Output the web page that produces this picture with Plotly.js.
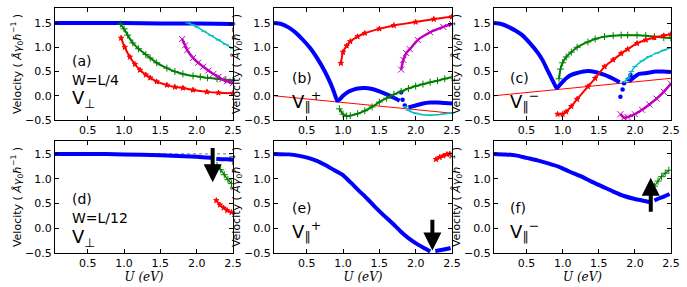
<!DOCTYPE html>
<html><head><meta charset="utf-8">
<script src="https://cdn.plot.ly/plotly-3.0.1.min.js"></script>
<style>body{margin:0;padding:0;background:#fff}#plot{width:687px;height:287px}</style>
</head><body><div id="plot"></div>
<script>
// ---------- data ----------
// Panel (a)  W=L/4, V_perp
const a_blue_x = [0.05,0.5,1.0,1.5,1.8,2.0,2.5];
const a_blue_y = [1.50,1.50,1.50,1.49,1.49,1.49,1.48];
const a_cyan_x = [1.88,1.95,2.0,2.1,2.2,2.3,2.4,2.5];
const a_cyan_y = [1.50,1.46,1.42,1.33,1.24,1.15,1.06,0.97];
const a_green_x = [0.95,1.0,1.05,1.12,1.2,1.3,1.36,1.45,1.59,1.7,1.81,1.95,2.05,2.15,2.28,2.4,2.5];
const a_green_y = [1.48,1.38,1.25,1.09,0.97,0.85,0.78,0.68,0.57,0.50,0.45,0.41,0.39,0.37,0.35,0.33,0.32];
const a_red_x = [0.96,1.01,1.08,1.15,1.22,1.3,1.36,1.45,1.59,1.7,1.81,1.95,2.14,2.3,2.5];
const a_red_y = [1.19,1.00,0.80,0.65,0.53,0.43,0.37,0.29,0.22,0.18,0.16,0.12,0.08,0.06,0.05];
const a_mag_x = [1.80,1.84,1.87,1.95,2.02,2.09,2.16,2.23,2.3,2.35,2.42,2.5];
const a_mag_y = [1.17,1.04,0.94,0.78,0.68,0.60,0.52,0.45,0.39,0.34,0.30,0.26];

// Panel (b)  V_par^+
const b_blue_x = [0.05,0.15,0.25,0.35,0.45,0.55,0.65,0.75,0.83,0.88,0.92,0.95,1.0,1.05,1.1,1.2,1.3,1.4,1.5,1.6,1.7,1.78,null,1.9,2.0,2.1,2.2,2.3,2.4,2.5];
const b_blue_y = [1.50,1.48,1.41,1.30,1.15,0.98,0.76,0.50,0.25,0.06,-0.10,-0.08,0.00,0.06,0.10,0.15,0.16,0.14,0.09,0.03,-0.04,-0.10,null,-0.24,-0.20,-0.16,-0.14,-0.14,-0.15,-0.16];
const b_dots_x = [1.80,1.82,1.85];
const b_dots_y = [0.07,-0.08,-0.20];
const b_red_x = [0.97,1.0,1.05,1.1,1.2,1.3,1.5,1.7,2.0,2.25,2.5];
const b_red_y = [0.67,0.90,1.03,1.12,1.22,1.29,1.38,1.45,1.52,1.58,1.63];
const b_mag_x = [1.80,1.83,1.87,1.92,2.03,2.2,2.38,2.5];
const b_mag_y = [0.54,0.74,0.88,0.96,1.15,1.31,1.42,1.48];
const b_green_x = [0.95,1.0,1.05,1.1,1.2,1.3,1.4,1.5,1.6,1.7,1.8,1.9,2.0,2.1,2.2,2.3,2.4,2.5];
const b_green_y = [-0.27,-0.38,-0.42,-0.41,-0.37,-0.31,-0.23,-0.13,-0.05,0.03,0.09,0.15,0.20,0.24,0.28,0.31,0.35,0.38];
const b_cyan_x = [1.86,1.9,2.0,2.1,2.2,2.3,2.4,2.5];
const b_cyan_y = [-0.22,-0.30,-0.36,-0.39,-0.40,-0.39,-0.37,-0.35];
const b_line_x = [0.05,2.5];
const b_line_y = [0.0,-0.36];

// Panel (c)  V_par^-
const c_blue_x = [0.05,0.15,0.25,0.35,0.44,0.55,0.66,0.72,0.79,0.85,0.9,0.92,0.97,1.05,1.12,1.2,1.35,1.45,1.58,1.7,1.79,null,1.92,1.97,2.06,2.17,2.29,2.4,2.5];
const c_blue_y = [1.50,1.48,1.42,1.34,1.25,1.08,0.88,0.74,0.53,0.35,0.20,0.16,0.24,0.36,0.43,0.47,0.51,0.49,0.43,0.35,0.28,null,0.30,0.36,0.45,0.47,0.50,0.50,0.49];
const c_dots_x = [1.80,1.83,1.85,1.91,1.94];
const c_dots_y = [-0.02,0.13,0.26,0.34,0.43];
const c_green_x = [0.95,0.97,1.0,1.05,1.12,1.2,1.35,1.45,1.58,1.7,1.81,1.9,2.03,2.15,2.27,2.4,2.5];
const c_green_y = [0.35,0.55,0.68,0.80,0.90,1.00,1.11,1.17,1.22,1.24,1.25,1.25,1.25,1.24,1.22,1.20,1.19];
const c_red_x = [0.93,1.0,1.05,1.12,1.2,1.35,1.45,1.58,1.7,1.81,1.9,2.03,2.15,2.27,2.4,2.5];
const c_red_y = [-0.38,-0.38,-0.33,-0.22,-0.07,0.19,0.36,0.60,0.74,0.87,0.96,1.08,1.15,1.20,1.24,1.27];
const c_cyan_x = [1.85,1.9,1.95,2.0,2.1,2.2,2.3,2.4,2.5];
const c_cyan_y = [0.28,0.35,0.50,0.60,0.72,0.81,0.88,0.94,0.99];
const c_mag_x = [1.80,1.85,1.9,2.0,2.1,2.2,2.3,2.4,2.5];
const c_mag_y = [-0.38,-0.45,-0.44,-0.38,-0.29,-0.18,-0.06,0.08,0.25];
const c_line_x = [0.05,2.5];
const c_line_y = [0.0,0.36];

// Panel (d)  W=L/12, V_perp
const d_blue_x = [0.05,0.5,1.0,1.5,2.0,2.2,null,2.27,2.35,2.42,2.5];
const d_blue_y = [1.50,1.50,1.49,1.47,1.44,1.42,null,1.40,1.39,1.39,1.38];
const d_ref_x = [0.05,2.5];
const d_ref_y = [1.5,1.5];
const d_green_x = [2.28,2.33,2.38,2.43,2.48];
const d_green_y = [1.27,1.18,1.08,0.98,0.90];
const d_red_x = [2.27,2.32,2.37,2.42,2.48];
const d_red_y = [0.56,0.47,0.41,0.36,0.32];

// Panel (e)  V_par^+
const e_blue_x = [0.05,0.25,0.4,0.52,0.64,0.75,0.87,0.99,1.1,1.21,1.33,1.44,1.56,1.68,1.79,1.9,2.01,2.13,2.2,null,2.27,2.35,2.42,2.48];
const e_blue_y = [1.50,1.49,1.46,1.42,1.36,1.28,1.18,1.08,0.93,0.77,0.60,0.43,0.26,0.10,-0.06,-0.20,-0.31,-0.41,-0.47,null,-0.46,-0.44,-0.42,-0.40];
const e_red_x = [2.28,2.33,2.38,2.43,2.47];
const e_red_y = [1.39,1.43,1.46,1.49,1.50];

// Panel (f)  V_par^-
const f_blue_x = [0.05,0.2,0.35,0.5,0.65,0.8,0.95,1.1,1.25,1.4,1.55,1.7,1.85,2.0,2.1,2.2,null,2.27,2.35,2.42,2.48];
const f_blue_y = [1.50,1.49,1.47,1.42,1.37,1.31,1.24,1.14,1.05,0.94,0.84,0.74,0.65,0.59,0.56,0.53,null,0.56,0.61,0.65,0.69];
const f_green_x = [2.27,2.32,2.37,2.42,2.47];
const f_green_y = [0.85,0.95,1.04,1.11,1.17];

// arrows: [x, tail y, head y]
const d_arrow = [2.22, 1.65, 0.93];
const e_arrow = [2.23, 0.20, -0.45];
const f_arrow = [2.22, 0.30, 1.02];

const yTicks = [-0.5,0.0,0.5,1.0,1.5];
const xTicks = [0.5,1.0,1.5,2.0,2.5];
const yTitle = 'Velocity ( <i>Å</i><i>γ</i><sub>0</sub><i>ħ</i><sup>−1</sup> )';
const xTitle = '<i>U (eV)</i>';

// ---------- styling ----------
const BLUE='#0000ff', RED='#ff0000', GREEN='#008000', MAG='#bf00bf', CYAN='#00bfbf';
const traces = [];
function blue(x,y,ax){traces.push({x,y,xaxis:'x'+ax,yaxis:'y'+ax,mode:'lines',line:{color:BLUE,width:4,shape:'spline',smoothing:0.6},connectgaps:false,hoverinfo:'skip'});}
function dots(x,y,ax){traces.push({x,y,xaxis:'x'+ax,yaxis:'y'+ax,mode:'markers',marker:{color:BLUE,size:4.5},hoverinfo:'skip'});}
function sym(x,y,ax,color,symbol,lw,ms){traces.push({x,y,xaxis:'x'+ax,yaxis:'y'+ax,mode:'lines+markers',line:{color,width:lw,shape:'spline',smoothing:0.6},marker:{color,symbol,size:ms,line:{color,width:1}},hoverinfo:'skip'});}
function thin(x,y,ax,color,dash){traces.push({x,y,xaxis:'x'+ax,yaxis:'y'+ax,mode:'lines',line:{color,width:1,dash:dash||'solid'},hoverinfo:'skip'});}

// (a)
thin(a_blue_x,a_blue_y,'','#888','dot');
blue(a_blue_x,a_blue_y,'');
sym(a_cyan_x,a_cyan_y,'',CYAN,'line-ew',1.5,4);
sym(a_green_x,a_green_y,'',GREEN,'cross-thin',2,5);
sym(a_red_x,a_red_y,'',RED,'star',2,4);
sym(a_mag_x,a_mag_y,'',MAG,'x-thin',2.5,6);
// (b)
thin(b_line_x,b_line_y,'2',RED);
blue(b_blue_x,b_blue_y,'2');
dots(b_dots_x,b_dots_y,'2');
sym(b_red_x,b_red_y,'2',RED,'star',2,4);
sym(b_mag_x,b_mag_y,'2',MAG,'x-thin',2.5,6);
sym(b_green_x,b_green_y,'2',GREEN,'cross-thin',2,5);
sym(b_cyan_x,b_cyan_y,'2',CYAN,'line-ew',1.5,4);
// (c)
thin(c_line_x,c_line_y,'3',RED);
blue(c_blue_x,c_blue_y,'3');
dots(c_dots_x,c_dots_y,'3');
sym(c_green_x,c_green_y,'3',GREEN,'cross-thin',2,5);
sym(c_red_x,c_red_y,'3',RED,'star',2,4);
sym(c_cyan_x,c_cyan_y,'3',CYAN,'line-ew',1.5,4);
sym(c_mag_x,c_mag_y,'3',MAG,'x-thin',2.5,6);
// (d)
thin(d_ref_x,d_ref_y,'4','#777','dot');
blue(d_blue_x,d_blue_y,'4');
sym(d_green_x,d_green_y,'4',GREEN,'cross-thin',1.5,5);
sym(d_red_x,d_red_y,'4',RED,'star',2,4);
// (e)
blue(e_blue_x,e_blue_y,'5');
sym(e_red_x,e_red_y,'5',RED,'star',2,4);
// (f)
blue(f_blue_x,f_blue_y,'6');
sym(f_green_x,f_green_y,'6',GREEN,'cross-thin',1.2,5);

const FONT = 'DejaVu Sans, sans-serif';
function xax(dom, anchor, title){
  const o = {domain:dom, anchor, range:[0.05,2.5], tickvals:xTicks, tickformat:'.1f', ticks:'inside', ticklen:4, tickcolor:'#000',
    showline:true, linecolor:'#000', linewidth:1, mirror:'ticks', showgrid:false, zeroline:false,
    tickfont:{family:FONT,size:11,color:'#000'}};
  if (title) o.title = {text:xTitle, font:{family:'DejaVu Serif, serif',size:12,color:'#000'}, standoff:2};
  return o;
}
function yax(dom, anchor, top){
  return {domain:dom, anchor, range:[-0.5,top], tickvals:yTicks, tickformat:'.1f', ticks:'inside', ticklen:4, tickcolor:'#000',
    showline:true, linecolor:'#000', linewidth:1, mirror:'ticks', showgrid:false, zeroline:false,
    tickfont:{family:FONT,size:11,color:'#000'},
    title:{text:yTitle, font:{family:FONT,size:11,color:'#000'}, standoff:0}};
}
const XA=[55/687,233/687], XB=[274/687,452/687], XC=[494/687,671/687];
const YT=[1-120/287,1-8/287], YB=[1-253/287,1-141/287];

const ann = [];
function lab(ax, x, y, text, size){ann.push({xref:'x'+ax, yref:'y'+ax, x, y, text, showarrow:false, xanchor:'left', yanchor:'middle', font:{family:FONT,size,color:'#000'}});}
function arrow(ax, a){ann.push({xref:'x'+ax, yref:'y'+ax, axref:'x'+ax, ayref:'y'+ax, x:a[0], y:a[2], ax:a[0], ay:a[1], text:'', showarrow:true, arrowhead:2, arrowsize:0.9, arrowwidth:4, arrowcolor:'#000'});}
const VPERP='V<sub>⊥</sub>', VPLUS='V<sub>∥</sub><sup>+</sup>', VMINUS='V<sub>∥</sub><sup>−</sup>';
lab('',0.26,0.72,'(a)',14); lab('',0.26,0.32,'W=L/4',14); lab('',0.26,-0.06,VPERP,18);
lab('2',0.27,0.36,'(b)',14); lab('2',0.27,-0.1,VPLUS,18);
lab('3',0.24,0.37,'(c)',14); lab('3',0.24,-0.1,VMINUS,18);
lab('4',0.26,0.58,'(d)',14); lab('4',0.26,0.2,'W=L/12',14); lab('4',0.26,-0.2,VPERP,18);
lab('5',0.27,0.41,'(e)',14); lab('5',0.27,-0.05,VPLUS,18);
lab('6',0.24,0.41,'(f)',14); lab('6',0.24,-0.05,VMINUS,18);
arrow('4',d_arrow); arrow('5',e_arrow); arrow('6',f_arrow);

const layout = {
  width:687, height:287, margin:{l:0,r:0,t:0,b:0}, paper_bgcolor:'#fff', plot_bgcolor:'#fff', showlegend:false,
  font:{family:FONT,size:11,color:'#000'},
  xaxis:xax(XA,'y',false), yaxis:yax(YT,'x',1.81),
  xaxis2:xax(XB,'y2',false), yaxis2:yax(YT,'x2',1.81),
  xaxis3:xax(XC,'y3',false), yaxis3:yax(YT,'x3',1.81),
  xaxis4:xax(XA,'y4',true), yaxis4:yax(YB,'x4',1.76),
  xaxis5:xax(XB,'y5',true), yaxis5:yax(YB,'x5',1.76),
  xaxis6:xax(XC,'y6',true), yaxis6:yax(YB,'x6',1.76),
  annotations:ann
};
Plotly.newPlot('plot', traces, layout, {staticPlot:true, displayModeBar:false});
</script></body></html>
